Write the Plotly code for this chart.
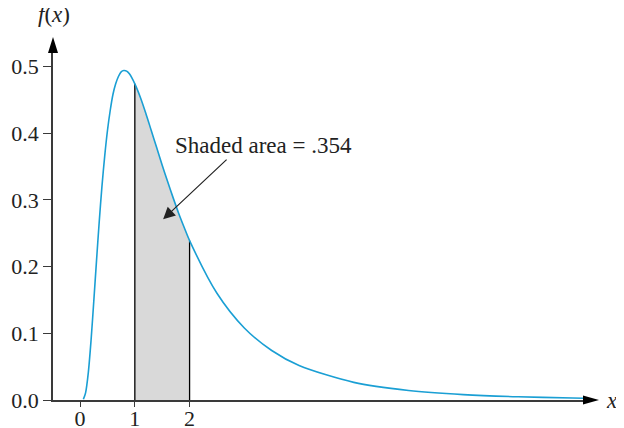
import plotly.graph_objects as go

# Density curve
x_vals = [0.06, 0.1, 0.15, 0.2, 0.25, 0.3, 0.35, 0.4, 0.45, 0.5, 0.55, 0.6, 0.65, 0.7,
          0.75, 0.8, 0.85, 0.9, 1.0, 1.1, 1.2, 1.3, 1.4, 1.5, 1.6, 1.7, 1.8, 1.9, 2.0,
          2.5, 3.0, 3.5, 4.0, 5.0, 6.0, 7.0, 8.0, 9.0, 9.2]
f_vals = [0.001, 0.0107, 0.0411, 0.0894, 0.148, 0.209, 0.268, 0.321, 0.366, 0.404, 0.434,
          0.458, 0.474, 0.485, 0.492, 0.494, 0.493, 0.489, 0.474, 0.454, 0.430, 0.404,
          0.378, 0.352, 0.327, 0.303, 0.280, 0.259, 0.239, 0.160, 0.108, 0.0742, 0.0517,
          0.0264, 0.0143, 0.0081, 0.0048, 0.0030, 0.0027]
shade_lo, shade_hi = 1.0, 2.0
shaded_area_label = "Shaded area = .354"
y_ticks = [0.0, 0.1, 0.2, 0.3, 0.4, 0.5]
x_ticks = [0, 1, 2]

SERIF = "Liberation Serif"
AX = "#3a3a3a"
CURVE = "#1a9fd4"
TXT = "#222"

sx = [x for x in x_vals if shade_lo <= x <= shade_hi]
sy = [f for x, f in zip(x_vals, f_vals) if shade_lo <= x <= shade_hi]

fig = go.Figure()
fig.add_trace(go.Scatter(x=sx, y=sy, mode="lines", line=dict(width=0, shape="spline"),
                         fill="tozeroy", fillcolor="#d9d9d9", hoverinfo="skip"))
fig.add_trace(go.Scatter(x=[sx[0], sx[0], None, sx[-1], sx[-1]],
                         y=[0, sy[0], None, 0, sy[-1]], mode="lines",
                         line=dict(color="black", width=1.3), hoverinfo="skip"))
fig.add_trace(go.Scatter(x=x_vals, y=f_vals, mode="lines",
                         line=dict(color=CURVE, width=1.6, shape="spline", smoothing=0.8)))

xmin, xmax = -0.495, 9.205
ymin, ymax = 0.0, 0.5217

fig.update_layout(
    width=616, height=420,
    margin=dict(l=45, r=40, t=44, b=28, autoexpand=False),
    paper_bgcolor="white", plot_bgcolor="white",
    showlegend=False,
    font=dict(family=SERIF, size=22, color=TXT),
    xaxis=dict(range=[xmin, xmax], showgrid=False, zeroline=False, automargin=False,
               showline=True, linecolor=AX, linewidth=1.6,
               ticks="outside", ticklen=5, tickwidth=1.4, tickcolor=AX,
               ticklabelstandoff=-7,
               tickvals=x_ticks, ticktext=[str(t) for t in x_ticks]),
    yaxis=dict(range=[ymin, ymax], showgrid=False, zeroline=False, automargin=False,
               showline=True, linecolor=AX, linewidth=1.6,
               ticks="outside", ticklen=8, tickwidth=1.4, tickcolor=AX,
               tickvals=y_ticks, ticktext=[f"{t:.1f}" for t in y_ticks]),
    shapes=[
        dict(type="path", xref="paper", yref="paper", xsizemode="pixel", ysizemode="pixel",
             xanchor=1, yanchor=0, path="M -1 -4.5 L 15 0 L -1 4.5 Z",
             fillcolor="black", line=dict(width=0)),
        dict(type="path", xref="paper", yref="paper", xsizemode="pixel", ysizemode="pixel",
             xanchor=0, yanchor=1, path="M -5 -1 L 5 -1 L 0 15 Z",
             fillcolor="black", line=dict(width=0)),
    ],
    annotations=[
        dict(x=0.002, y=1.107, xref="paper", yref="paper", text="<i>f</i>(<i>x</i>)",
             xanchor="center", yanchor="middle",
             showarrow=False, font=dict(size=23, family=SERIF, color=TXT)),
        dict(x=1.0527, y=0, xref="paper", yref="paper", text="<i>x</i>",
             xanchor="center", yanchor="middle",
             showarrow=False, font=dict(size=23, family=SERIF, color=TXT)),
        dict(x=1.699, y=0.382, xref="x", yref="y", text=shaded_area_label,
             xanchor="left", yanchor="middle", showarrow=False,
             font=dict(size=23, family=SERIF, color=TXT)),
        dict(x=1.516, y=0.271, xref="x", yref="y", text="", showarrow=True,
             ax=65, ay=-61, arrowhead=2, arrowsize=2, arrowwidth=1.2, arrowcolor=TXT),
    ],
)

fig.write_html("out.html")
